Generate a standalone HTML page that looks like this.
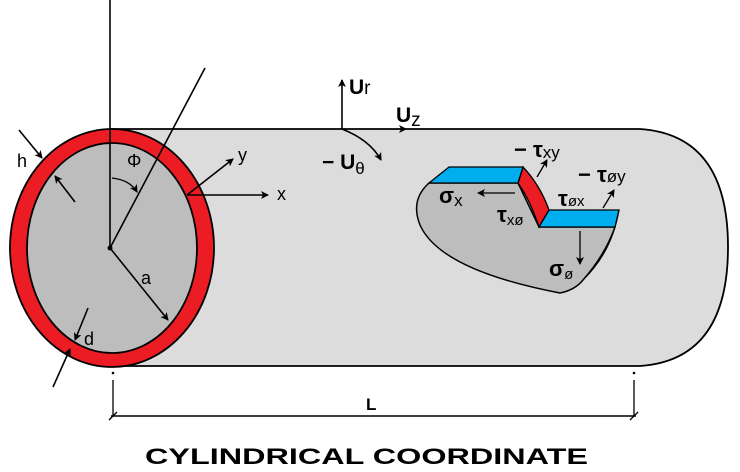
<!DOCTYPE html>
<html><head><meta charset="utf-8"><style>
html,body{margin:0;padding:0;background:#fff;}
svg{display:block;font-family:"Liberation Sans","DejaVu Sans",sans-serif;}
</style></head><body>
<svg width="740" height="472" viewBox="0 0 740 472" xmlns="http://www.w3.org/2000/svg">
<defs>
<marker id="ah" markerWidth="8" markerHeight="8" refX="7" refY="4" orient="auto" markerUnits="userSpaceOnUse">
<path d="M0,0 L8,4 L0,8 L2,4 Z" fill="#000"/></marker>
</defs>
<path d="M112,129 L640,129 Q728,135 728,247 Q728,360 640,366 L112,366 Z" fill="#dcdcdc" stroke="#000" stroke-width="1.8"/>
<ellipse cx="112" cy="248" rx="102" ry="119" fill="#ec1c24" stroke="#000" stroke-width="1.8"/>
<ellipse cx="112" cy="248" rx="85" ry="105" fill="#bdbdbd" stroke="#000" stroke-width="1.8"/>
<line x1="110" y1="0" x2="110" y2="248" stroke="#000" stroke-width="1.6"/>
<line x1="110" y1="248" x2="205" y2="68" stroke="#000" stroke-width="1.6"/>
<circle cx="110" cy="248" r="2.5" fill="#000"/>
<path d="M112,178 Q130,180 137,192" fill="none" stroke="#000" stroke-width="1.3" marker-end="url(#ah)"/>
<text x="127" y="167" font-size="18">Φ</text>
<line x1="110" y1="248" x2="168" y2="320" stroke="#000" stroke-width="1.6" marker-end="url(#ah)"/>
<text x="141" y="284" font-size="18">a</text>
<line x1="187" y1="195" x2="268" y2="195" stroke="#000" stroke-width="1.6" marker-end="url(#ah)"/>
<text x="277" y="200" font-size="18">x</text>
<line x1="187" y1="195" x2="233" y2="159" stroke="#000" stroke-width="1.6" marker-end="url(#ah)"/>
<text x="238" y="161" font-size="18">y</text>
<line x1="19" y1="130" x2="42" y2="158" stroke="#000" stroke-width="1.6" marker-end="url(#ah)"/>
<text x="17" y="167" font-size="18">h</text>
<line x1="75" y1="202" x2="55" y2="176" stroke="#000" stroke-width="1.6" marker-end="url(#ah)"/>
<line x1="88" y1="308" x2="75" y2="340" stroke="#000" stroke-width="1.6" marker-end="url(#ah)"/>
<text x="84" y="345" font-size="18">d</text>
<line x1="53" y1="387" x2="70" y2="349" stroke="#000" stroke-width="1.6" marker-end="url(#ah)"/>
<circle cx="113" cy="373" r="1.3" fill="#000"/>
<circle cx="634" cy="373" r="1.3" fill="#000"/>
<line x1="113" y1="380" x2="113" y2="416" stroke="#000" stroke-width="1.3"/>
<line x1="634" y1="380" x2="634" y2="416" stroke="#000" stroke-width="1.3"/>
<line x1="111" y1="416" x2="636" y2="416" stroke="#000" stroke-width="1.5"/>
<line x1="109" y1="420" x2="117" y2="412" stroke="#000" stroke-width="1.3"/>
<line x1="630" y1="420" x2="638" y2="412" stroke="#000" stroke-width="1.3"/>
<text x="366" y="410" font-size="17" font-weight="bold">L</text>
<text x="145" y="464" font-size="22" font-weight="bold" textLength="443" lengthAdjust="spacingAndGlyphs">CYLINDRICAL COORDINATE</text>
<line x1="342" y1="129" x2="342" y2="80" stroke="#000" stroke-width="1.6" marker-end="url(#ah)"/>
<text x="349" y="94" font-size="21" font-weight="bold">U<tspan font-weight="normal" font-size="19">r</tspan></text>
<line x1="395" y1="129" x2="406" y2="129" stroke="#000" stroke-width="1" marker-end="url(#ah)"/>
<text x="396" y="122" font-size="21" font-weight="bold">U<tspan font-weight="normal" font-size="19" dy="4">z</tspan></text>
<path d="M342,129 Q370,140 381,160" fill="none" stroke="#000" stroke-width="1.6" marker-end="url(#ah)"/>
<text x="322" y="169" font-size="21" font-weight="bold">− U<tspan font-weight="normal" font-size="17" dy="5">θ</tspan></text>
<path d="M429,183 Q410,200 420,225 Q440,270 560,293 Q575,290 583,280 Q605,255 615,227 L539,227 L518,183 Z" fill="#bdbdbd" stroke="#000" stroke-width="1.5"/>
<path d="M619,210 L615,227 Q605,258 583,280 Q612,252 619,210 Z" fill="#ec1c24" stroke="#000" stroke-width="1"/>
<path d="M523,167 Q540,185 549,210 L539,227 Q530,200 518,183 Z" fill="#ec1c24" stroke="#000" stroke-width="1.3"/>
<path d="M429,183 L449,167 L523,167 L518,183 Z" fill="#00aeef" stroke="#000" stroke-width="1.3"/>
<path d="M539,227 L549,210 L619,210 L615,227 Z" fill="#00aeef" stroke="#000" stroke-width="1.3"/>
<line x1="515" y1="193" x2="478" y2="193" stroke="#000" stroke-width="1.3" marker-end="url(#ah)"/>
<text x="439" y="203" font-size="22" font-weight="bold">σ<tspan font-weight="normal" font-size="17" dy="3">x</tspan></text>
<text x="497" y="222" font-size="22" font-weight="bold">τ<tspan font-weight="normal" font-size="15" dy="3">xø</tspan></text>
<line x1="537" y1="177" x2="547" y2="160" stroke="#000" stroke-width="1.3" marker-end="url(#ah)"/>
<text x="514" y="157" font-size="22" font-weight="bold">− τ<tspan font-weight="normal" font-size="17" dy="1">xy</tspan></text>
<text x="558" y="206" font-size="22" font-weight="bold">τ<tspan font-weight="normal" font-size="15">øx</tspan></text>
<line x1="603" y1="208" x2="614" y2="190" stroke="#000" stroke-width="1.3" marker-end="url(#ah)"/>
<text x="578" y="182" font-size="22" font-weight="bold">− τ<tspan font-weight="normal" font-size="17">øy</tspan></text>
<line x1="580" y1="231" x2="580" y2="264" stroke="#000" stroke-width="1.3" marker-end="url(#ah)"/>
<text x="549" y="276" font-size="22" font-weight="bold">σ<tspan font-weight="normal" font-size="15" dy="3">ø</tspan></text>
</svg>
</body></html>
